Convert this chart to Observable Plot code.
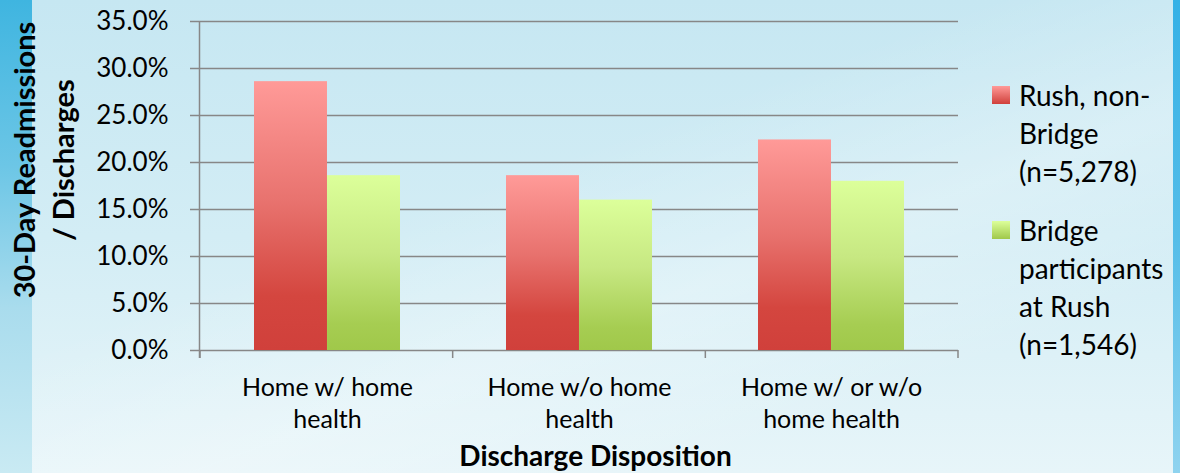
<!DOCTYPE html>
<html>
<head>
<meta charset="utf-8">
<script src="https://cdn.jsdelivr.net/npm/d3@7"></script>
<script src="https://cdn.jsdelivr.net/npm/@observablehq/plot@0.6"></script>
<style>
  html, body { margin: 0; padding: 0; }
  body {
    width: 1180px; height: 473px; overflow: hidden; position: relative;
    font-family: Lato, "Open Sans", sans-serif;
    background:
      linear-gradient(160deg, rgba(255,255,255,0) 40%, rgba(255,255,255,0.25) 60%, rgba(255,255,255,0) 80%),
      linear-gradient(to bottom, #c6e7f2 0%, #d3edf5 50%, #e7f5f9 100%);
  }
  #leftStrip {
    position: absolute; left: 0; top: 0; width: 32px; height: 473px;
    background: linear-gradient(to bottom, #3fb5e0 0%, #6cc6e6 35%, #a9dced 65%, #c9eaf3 100%);
  }
  #rightStrip {
    position: absolute; left: 1173px; top: 0; width: 7px; height: 473px;
    background: linear-gradient(to bottom, #35b1e6 0%, #55bde8 50%, #8fd3ef 100%);
  }
  #chart { position: absolute; left: 0; top: 0; }
  .legend-item { position: absolute; left: 992px; }
  .legend-swatch { position: absolute; left: 0; width: 18px; height: 18px; }
  .legend-text { position: absolute; left: 27px; white-space: pre; font-size: 28px; color: #000; }
</style>
</head>
<body>
<div id="leftStrip"></div>
<div id="rightStrip"></div>
<div id="chart"></div>
<div id="legend"></div>
<script>
// ---- Data ----
const categories = ["Home w/ home\nhealth", "Home w/o home\nhealth", "Home w/ or w/o\nhome health"];
const seriesNames = ["Rush, non-\nBridge\n(n=5,278)", "Bridge\nparticipants\nat Rush\n(n=1,546)"];
const rushNonBridge = [0.286, 0.186, 0.224];
const bridgeParticipants = [0.186, 0.160, 0.180];
const yTicks = [0, 0.05, 0.10, 0.15, 0.20, 0.25, 0.30, 0.35];
const yTitleLines = ["30-Day Readmissions", "/ Discharges"];
const xTitle = "Discharge Disposition";

// ---- Layout ----
const W = 1180, H = 473, ML = 200, MR = 222, MT = 21, MB = 123;
const xOpts = {type: "band", domain: categories, range: [ML, W - MR], paddingInner: 0.422, paddingOuter: 0.211};
const xs = Plot.scale({x: xOpts});
const half = xs.bandwidth / 2;
const gap = xs.step - xs.bandwidth;

const rows = categories.flatMap((c, i) => [
  {cat: c, series: seriesNames[0], value: rushNonBridge[i]},
  {cat: c, series: seriesNames[1], value: bridgeParticipants[i]}
]);

const defs = () => {
  const ns = "http://www.w3.org/2000/svg";
  const d = document.createElementNS(ns, "defs");
  d.innerHTML = `
    <linearGradient id="gradRed" x1="0" y1="0" x2="0" y2="1">
      <stop offset="0" stop-color="#ff9a98"/>
      <stop offset="0.45" stop-color="#e8726e"/>
      <stop offset="0.8" stop-color="#d4463f"/>
      <stop offset="1" stop-color="#d0403b"/>
    </linearGradient>
    <linearGradient id="gradGreen" x1="0" y1="0" x2="0" y2="1">
      <stop offset="0" stop-color="#dcff9a"/>
      <stop offset="0.45" stop-color="#c7e882"/>
      <stop offset="0.85" stop-color="#a6cd52"/>
      <stop offset="1" stop-color="#a0c84a"/>
    </linearGradient>`;
  return d;
};

// axis line & category-boundary ticks, derived from the band scale
const axisLines = () => {
  const g = d3.create("svg:g").attr("stroke", "#878787").attr("stroke-width", 1.5);
  g.append("line").attr("x1", ML - 0.5).attr("x2", ML - 0.5).attr("y1", MT).attr("y2", H - MB + 8);
  const bounds = categories.map(c => xs.apply(c) - gap / 2).concat([W - MR]);
  bounds.forEach(b => g.append("line").attr("x1", b).attr("x2", b).attr("y1", H - MB).attr("y2", H - MB + 8));
  return g.node();
};

// rotated two-line y-axis title
const yTitleMark = () => {
  const g = d3.create("svg:g")
    .attr("font-size", 29).attr("font-weight", "bold").attr("fill", "#000")
    .attr("text-anchor", "middle");
  const cx = [25, 64];
  yTitleLines.forEach((t, i) => {
    g.append("text")
      .attr("transform", `translate(${cx[i]},160) rotate(-90)`)
      .attr("dy", "0.35em")
      .text(t);
  });
  return g.node();
};

const chart = Plot.plot({
  width: W, height: H,
  marginLeft: ML, marginRight: MR, marginTop: MT, marginBottom: MB,
  style: {background: "transparent", fontFamily: "Lato, 'Open Sans', sans-serif", color: "#000", overflow: "visible"},
  x: {...xOpts, axis: null},
  y: {domain: [0, 0.35], axis: null},
  marks: [
    defs,
    Plot.ruleY(yTicks, {y: d => d, stroke: "#878787", strokeWidth: 1.5, insetLeft: -10}),
    Plot.barY(rows.filter(r => r.series === seriesNames[0]), {x: "cat", y: "value", fill: "url(#gradRed)", insetRight: half}),
    Plot.barY(rows.filter(r => r.series === seriesNames[1]), {x: "cat", y: "value", fill: "url(#gradGreen)", insetLeft: half}),
    axisLines,
    Plot.text(yTicks, {y: d => d, text: d => d3.format(".1%")(d), frameAnchor: "left", textAnchor: "end", dx: -32, fontSize: 26, fill: "#000"}),
    Plot.text(categories, {x: d => d, text: d => d, frameAnchor: "bottom", lineAnchor: "top", dy: 22, fontSize: 25, lineHeight: 1.3, fill: "#000"}),
    yTitleMark,
    Plot.text([xTitle], {text: d => d, frameAnchor: "bottom", lineAnchor: "middle", dx: 16, dy: 107, fontSize: 28, fontWeight: "bold", fill: "#000"})
  ]
});
document.getElementById("chart").appendChild(chart);

// ---- Legend ----
const legendColors = [
  "linear-gradient(to bottom, #ff9a98, #d0403b)",
  "linear-gradient(to bottom, #dcff9a, #a0c84a)"
];
const legendTops = [76, 211];
const legend = document.getElementById("legend");
seriesNames.forEach((name, i) => {
  const item = document.createElement("div");
  item.className = "legend-item";
  item.style.top = legendTops[i] + "px";
  const sw = document.createElement("div");
  sw.className = "legend-swatch";
  sw.style.top = "10px";
  sw.style.background = legendColors[i];
  const tx = document.createElement("div");
  tx.className = "legend-text";
  tx.style.lineHeight = "38px";
  tx.textContent = name;
  item.appendChild(sw);
  item.appendChild(tx);
  legend.appendChild(item);
});
</script>
</body>
</html>
